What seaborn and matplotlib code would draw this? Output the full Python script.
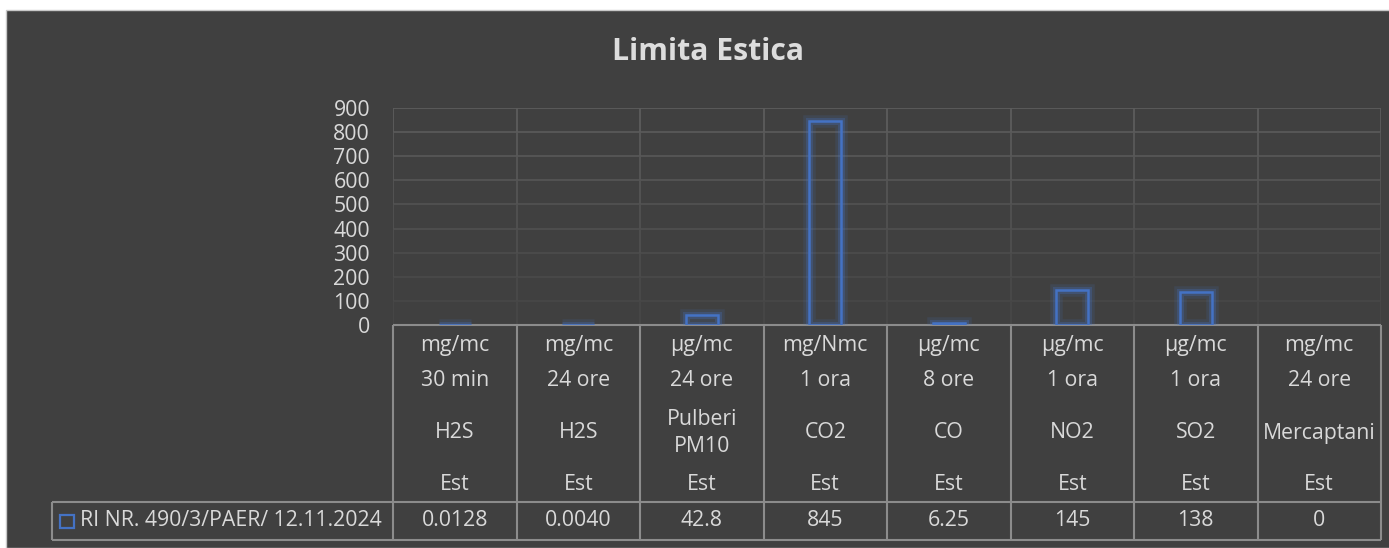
import numpy as np
import pandas as pd
import matplotlib
matplotlib.use("Agg")
import matplotlib.pyplot as plt
import seaborn as sns
from matplotlib.patches import Rectangle
from matplotlib.colors import to_rgb

units = ["mg/mc", "mg/mc", "µg/mc", "mg/Nmc", "µg/mc", "µg/mc", "µg/mc", "mg/mc"]
periods = ["30 min", "24 ore", "24 ore", "1 ora", "8 ore", "1 ora", "1 ora", "24 ore"]
pollutants = ["H2S", "H2S", "Pulberi\nPM10", "CO2", "CO", "NO2", "SO2", "Mercaptani"]
sites = ["Est", "Est", "Est", "Est", "Est", "Est", "Est", "Est"]
values = [0.0128, 0.0040, 42.8, 845, 6.25, 145, 138, 0]
value_labels = ["0.0128", "0.0040", "42.8", "845", "6.25", "145", "138", "0"]
series_name = "RI NR. 490/3/PAER/ 12.11.2024"
title = "Limita Estica"

W, H = 1389, 548
BG = "#404040"
TXT = "#D9D9D9"
BORDER = "#8C8C8C"
BLUE = "#4472C4"
FS = 15.3

sns.set_style("dark")
plt.rcParams["font.family"] = ["Open Sans", "DejaVu Sans"]

fig = plt.figure(figsize=(W / 100, H / 100), dpi=100)
fig.patch.set_facecolor("white")
fig.patches.append(Rectangle((6 / W, 0), 1, 1 - 10 / H, transform=fig.transFigure,
                             facecolor=BG, edgecolor="#C8C8C8", lw=1, zorder=-10))

ax = fig.add_axes([393 / W, (H - 325) / H, (1381 - 393) / W, 217 / H])
ax.set_facecolor("none")

df = pd.DataFrame({"idx": range(len(values)), "value": values})

# soft glow (two passes) + crisp outline
for lw, a in [(9, 0.14), (5, 0.28)]:
    sns.barplot(data=df, x="idx", y="value", ax=ax, fill=False, width=0.26,
                edgecolor=to_rgb(BLUE) + (a,), linewidth=lw, errorbar=None, zorder=3)
sns.barplot(data=df, x="idx", y="value", ax=ax, fill=False, width=0.26,
            edgecolor=BLUE, linewidth=1.8, errorbar=None, zorder=4)
for p in ax.patches:
    if p.get_height() == 0:
        p.set_visible(False)

ax.set_xlim(-0.5, len(values) - 0.5)
ax.set_ylim(0, 900)
ax.set_yticks(np.arange(0, 1000, 100))
ax.set_xticks([])
ax.set_xlabel("")
ax.set_ylabel("")
ax.grid(False)
for s in ax.spines.values():
    s.set_visible(False)
ax.tick_params(axis="y", length=0, pad=16.5, labelsize=FS, labelcolor=TXT)

# fading gridlines
top_c = np.array(to_rgb("#5C5C5C"))
bot_c = np.array(to_rgb(BG))
for v in range(100, 1000, 100):
    f = 0.15 + 0.85 * (v / 900)
    ax.axhline(v, color=tuple(bot_c + (top_c - bot_c) * f), lw=1.3, zorder=1)
for x in np.arange(-0.5, len(values), 1.0):
    for k in range(9):
        f = 0.15 + 0.85 * ((k + 1) / 9)
        ax.plot([x, x], [k * 100, (k + 1) * 100], color=tuple(bot_c + (top_c - bot_c) * f),
                lw=1.3, zorder=1, solid_capstyle="butt")

# data table below the plot
trans = ax.get_xaxis_transform()
def ypx(p):
    return -(p - 325) / 217.0

leg_x = -0.5 - (393 - 52) / 123.5
lk = dict(transform=trans, clip_on=False, color=BORDER, lw=1.5, solid_capstyle="butt")
ax.plot([-0.5, len(values) - 0.5], [0, 0], **lk)
ax.plot([leg_x, len(values) - 0.5], [ypx(502), ypx(502)], **lk)
ax.plot([leg_x, len(values) - 0.5], [ypx(540), ypx(540)], **lk)
ax.plot([leg_x, leg_x], [ypx(502), ypx(540)], **lk)
for x in np.arange(-0.5, len(values), 1.0):
    ax.plot([x, x], [0, ypx(540)], **lk)

tk = dict(transform=trans, ha="center", va="center", color=TXT, fontsize=FS, clip_on=False)
for i in range(len(values)):
    ax.text(i, ypx(345), units[i], **tk)
    ax.text(i, ypx(381), periods[i], **tk)
    ax.text(i, ypx(433), pollutants[i], linespacing=1.4, **tk)
    ax.text(i, ypx(484), sites[i], **tk)
    ax.text(i, ypx(521), value_labels[i], **tk)

# legend key in table
fig.patches.append(Rectangle((60 / W, (H - 528) / H), 14 / W, 13 / H, transform=fig.transFigure,
                             facecolor="none", edgecolor=BLUE, lw=1.6))
fig.text(80 / W, (H - 521) / H, series_name, ha="left", va="center", color=TXT, fontsize=FS)

fig.text(708 / W, (H - 52) / H, title, ha="center", va="center", color="#DDDDDD",
         fontsize=21.7, fontweight="bold")

fig.savefig("out.png", dpi=100, facecolor=fig.get_facecolor())
